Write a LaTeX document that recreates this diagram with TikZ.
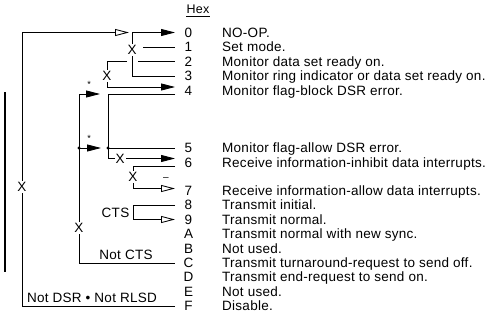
\documentclass[tikz,border=0pt]{standalone}
\usepackage{fontspec}
\setmainfont{Liberation Sans}[LetterSpace=2]
\usetikzlibrary{arrows.meta}
\begin{document}
\begin{tikzpicture}[x=1pt,y=-1pt,
 wire/.style={line width=0.85pt, line join=miter},
 fa/.style={-{Triangle[length=14pt,width=7pt]}},
 oa/.style={-{Triangle[open,length=14pt,width=7pt]}},
 txt/.style={font=\fontsize{13.5}{13.5}\selectfont, inner sep=0pt},
 dig/.style={txt, anchor=base},
 dsc/.style={txt, anchor=base west},
 xm/.style={txt, fill=white, inner sep=1pt},
 starn/.style={font=\fontsize{9}{9}\selectfont, inner sep=0pt},
 dotn/.style={circle, fill, inner sep=0pt, minimum size=3.4pt}]
\useasboundingbox (0,0) rectangle (497,329);

% header
\node[txt, font=\fontsize{12.5}{12.5}\selectfont, anchor=base] (hex) at (198,14) {Hex};
\draw[wire] ([yshift=-2pt]hex.south west) -- ([yshift=-2pt]hex.south east);

% digits and descriptions
\node[dig] (d0) at (188.5,37.3) {0}; \node[dsc] (t0) at (222,37.3) {NO-OP.};
\node[dig] (d1) at (188.5,51.8) {1}; \node[dsc] (t1) at (222,51.8) {Set mode.};
\node[dig] (d2) at (188.5,66.3) {2}; \node[dsc] (t2) at (222,66.3) {Monitor data set ready on.};
\node[dig] (d3) at (188.5,80.8) {3}; \node[dsc] (t3) at (222,80.8) {Monitor ring indicator or data set ready on.};
\node[dig] (d4) at (188.5,95.3) {4}; \node[dsc] (t4) at (222,95.3) {Monitor flag-block DSR error.};
\node[dig] (d5) at (188.5,152.8) {5}; \node[dsc] (t5) at (222,152.8) {Monitor flag-allow DSR error.};
\node[dig] (d6) at (188.5,167.3) {6}; \node[dsc] (t6) at (222,167.3) {Receive information-inhibit data interrupts.};
\node[dig] (d7) at (188.5,195.8) {7}; \node[dsc] (t7) at (222,195.8) {Receive information-allow data interrupts.};
\node[dig] (d8) at (188.5,209.8) {8}; \node[dsc] (t8) at (222,209.8) {Transmit initial.};
\node[dig] (d9) at (188.5,224.3) {9}; \node[dsc] (t9) at (222,224.3) {Transmit normal.};
\node[dig] (dA) at (188.5,238.8) {A}; \node[dsc] (tA) at (222,238.8) {Transmit normal with new sync.};
\node[dig] (dB) at (188.5,253.3) {B}; \node[dsc] (tB) at (222,253.3) {Not used.};
\node[dig] (dC) at (188.5,267.8) {C}; \node[dsc] (tC) at (222,267.8) {Transmit turnaround-request to send off.};
\node[dig] (dD) at (188.5,281.8) {D}; \node[dsc] (tD) at (222,281.8) {Transmit end-request to send on.};
\node[dig] (dE) at (188.5,296.3) {E}; \node[dsc] (tE) at (222,296.3) {Not used.};
\node[dig] (dF) at (188.5,310.8) {F}; \node[dsc] (tF) at (222,310.8) {Disable.};

% line end points
\coordinate (e0) at (175,32.5);
\coordinate (e1) at (175,47);
\coordinate (e2) at (175,61.5);
\coordinate (e3) at (175,76);
\coordinate (e4a) at (175,87);
\coordinate (e4b) at (175,94);
\coordinate (e5) at (175,148);
\coordinate (e6a) at (175,158.5);
\coordinate (e6b) at (175,166);
\coordinate (e7) at (175,188.5);
\coordinate (e8) at (175,205);
\coordinate (e9) at (175,219.5);
\coordinate (eC) at (175,263);
\coordinate (eF) at (175,306);

% outer loop (Not DSR . Not RLSD)
\coordinate (l0) at (22,32.5);
\coordinate (lF) at (22,306);
\coordinate (a0) at (129,32.5);
\draw[wire,oa] (eF) -- (lF) -- (l0) -- (a0);

% column at 132
\coordinate (v1t) at (132,32.5);
\coordinate (v1b) at (132,76);
\draw[wire,fa] (v1t) -- (e0);
\draw[wire] (v1t) -- (v1b) -- (e3);
\coordinate (r1) at (143,47);
\draw[wire] (r1) -- (e1);

% row 2 / column 107
\coordinate (r2a) at (107,61.5);
\coordinate (r2b) at (127,61.5);
\coordinate (r2c) at (138,61.5);
\coordinate (v2b) at (107,87);
\draw[wire,fa] (r2b) -- (r2a) -- (v2b) -- (e4a);
\draw[wire] (r2c) -- (e2);

% column 108 (row 4 to row 6)
\coordinate (v3t) at (108,94);
\coordinate (j5) at (108,148);
\coordinate (v3b) at (108,158.5);
\draw[wire,fa] (e4b) -- (v3t) -- (v3b) -- (e6a);
\draw[wire] (j5) -- (e5);

% column 79
\coordinate (v4t) at (79,94);
\coordinate (a4) at (100,94);
\coordinate (j5l) at (79,148);
\coordinate (a5) at (101,148);
\coordinate (v4b) at (79,263);
\draw[wire,fa] (v4t) -- (a4);
\draw[wire] (v4t) -- (v4b) -- (eC);
\draw[wire,fa] (j5l) -- (a5);
\node[dotn] (dot1) at (j5l) {};
\node[dotn] (dot2) at (j5) {};
\node[starn] (s1) at (89,84) {*};
\node[starn] (s2) at (89,138) {*};

% rows 6-7
\coordinate (v5t) at (133,166);
\coordinate (v5b) at (133,188.5);
\draw[wire,oa] (e6b) -- (v5t) -- (v5b) -- (e7);
\node[txt, font=\fontsize{10}{10}\selectfont] (bar) at (166,179) {–};

% CTS bracket
\coordinate (v6t) at (133,205);
\coordinate (v6b) at (133,219.5);
\draw[wire,oa] (e8) -- (v6t) -- (v6b) -- (e9);

% labels
\node[txt] (cts) at (115.5,213) {CTS};
\node[txt, anchor=base] (ncts) at (126,259.5) {Not CTS};
\node[txt, anchor=base] (ndsr) at (92,302.5) {Not DSR • Not RLSD};

% X marks
\node[xm] (x1) at (132,50) {X};
\node[xm] (x2) at (107,76) {X};
\node[xm] (x3) at (120,158.5) {X};
\node[xm] (x4) at (133,177) {X};
\node[xm] (x5) at (79,228) {X};
\node[xm] (x6) at (22,187) {X};

% margin change bar
\coordinate (cb1) at (5,92);
\coordinate (cb2) at (5,272);
\draw[line width=1.2pt] (cb1) -- (cb2);
\end{tikzpicture}
\end{document}
